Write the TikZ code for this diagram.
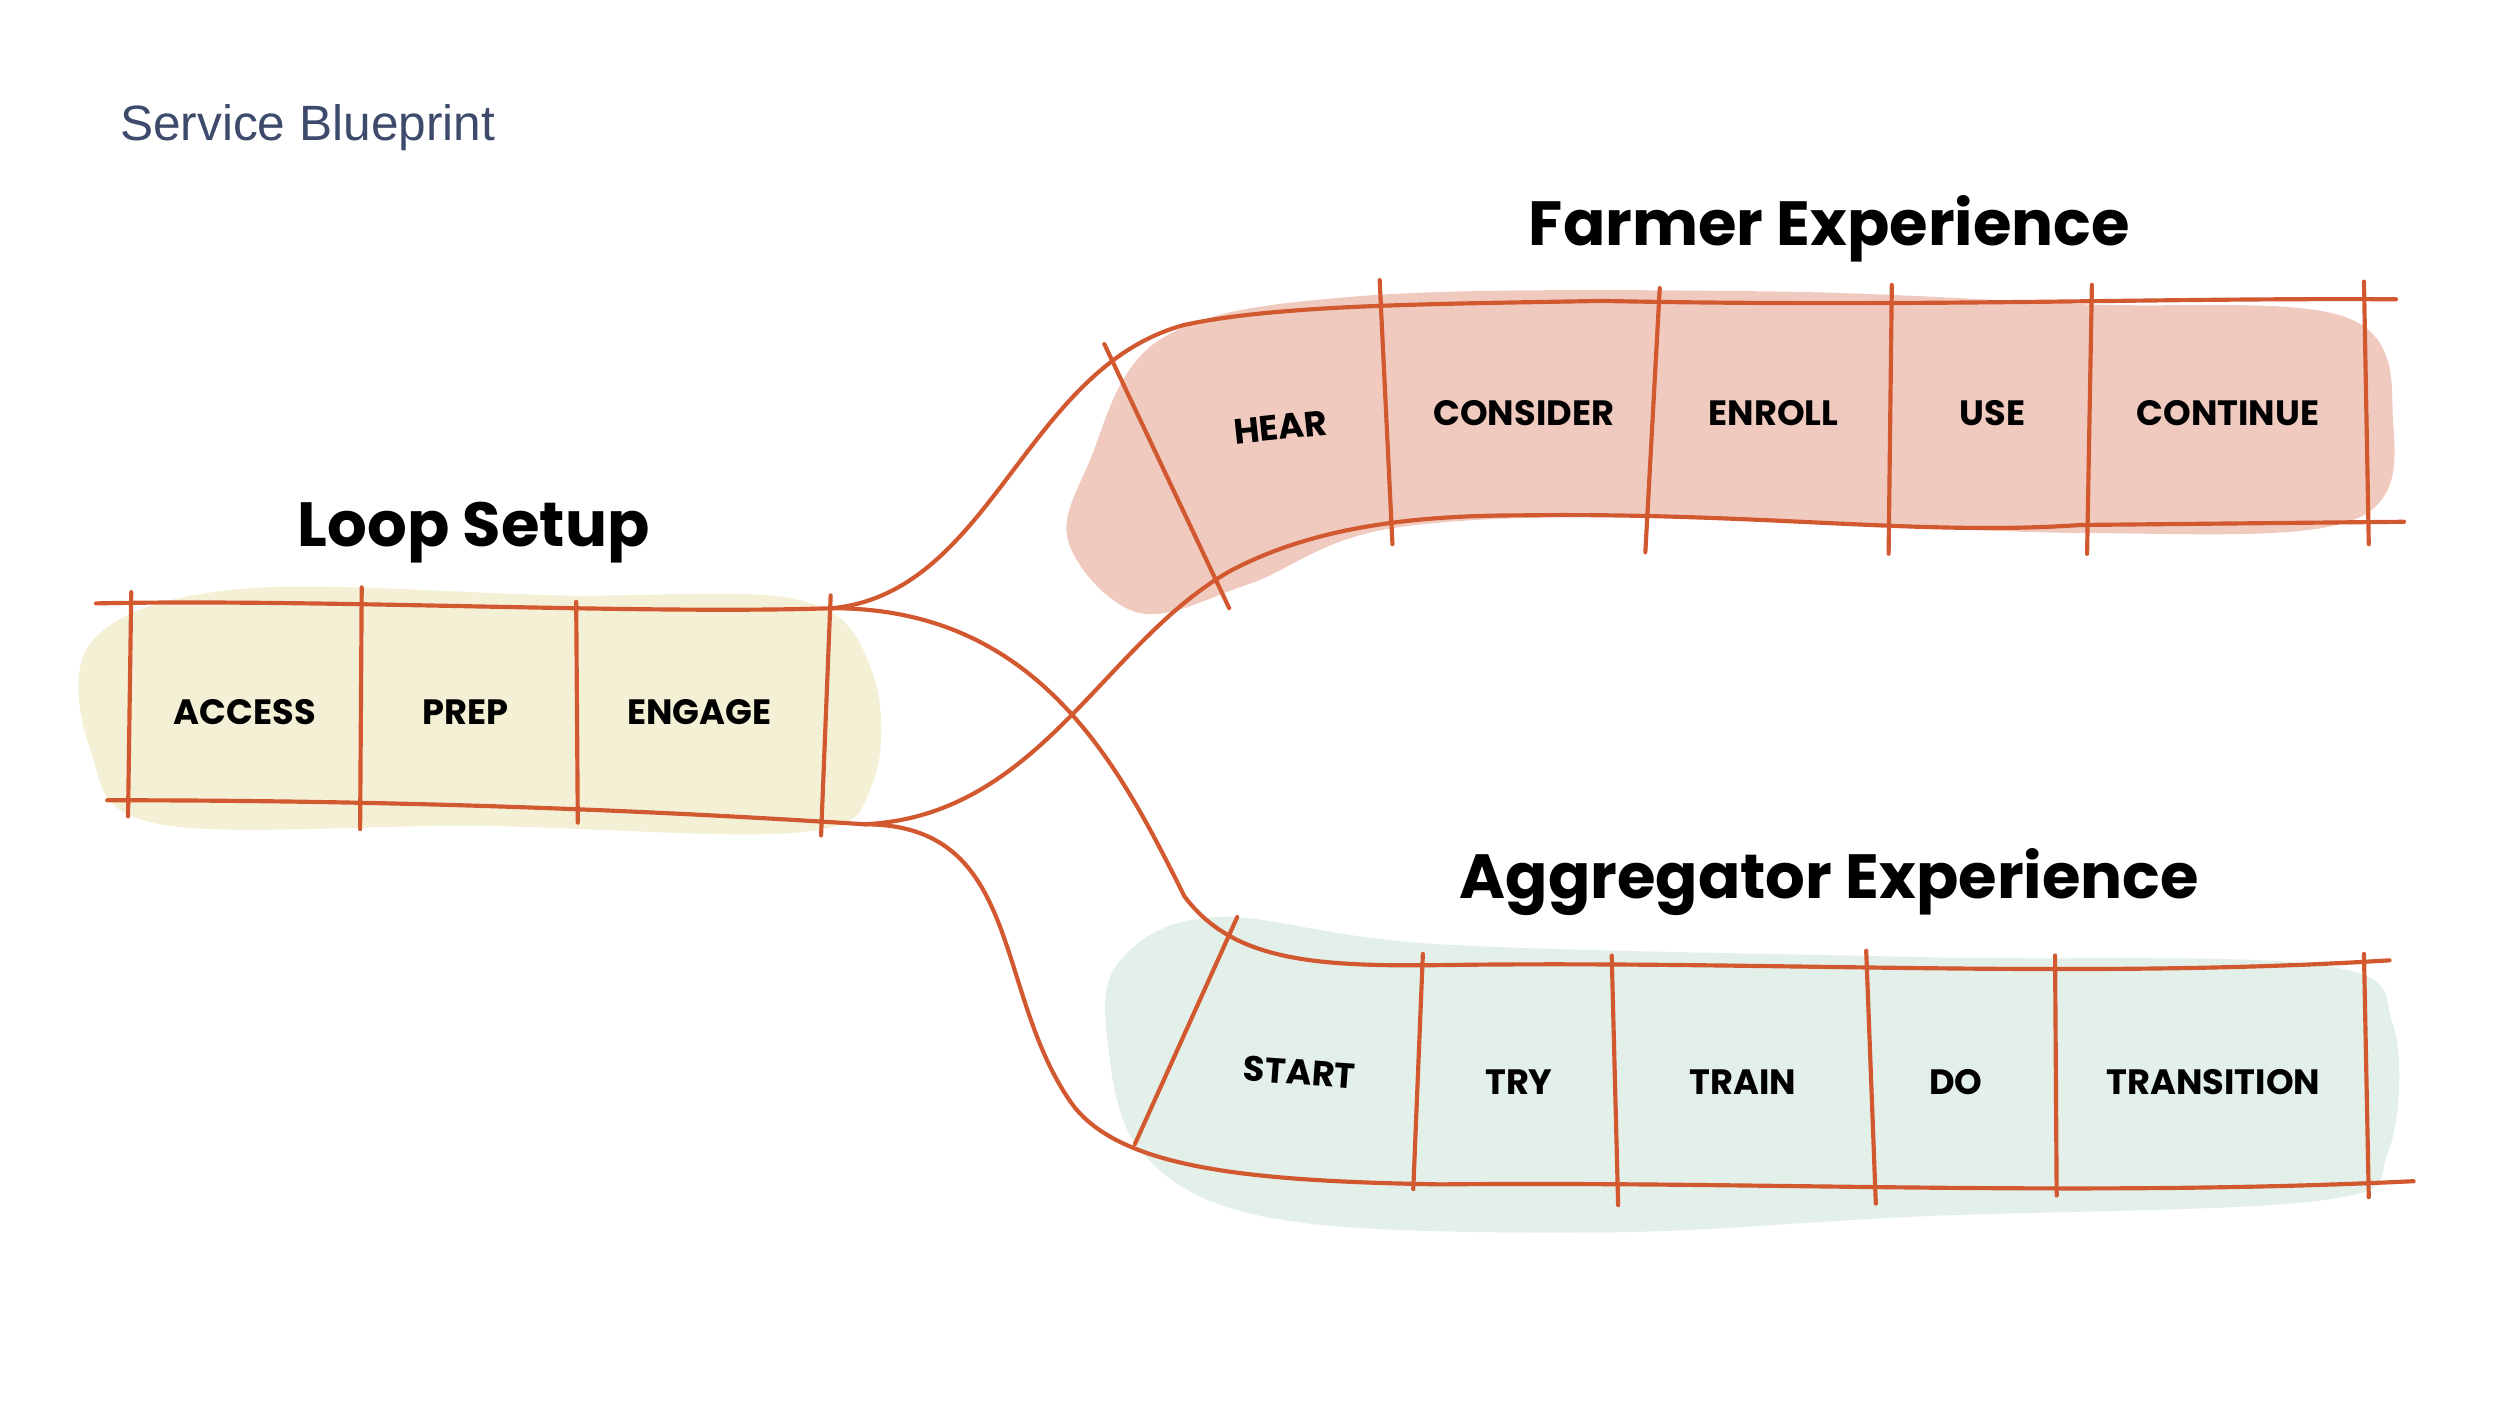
\documentclass[tikz,border=0pt]{standalone}
\usepackage{fontspec}
\setmainfont{Poppins}
\newfontfamily\arialf{Liberation Sans}
\begin{document}
\begin{tikzpicture}[x=0.5pt,y=-0.5pt,
  ln/.style={draw=lineC,line width=1.3pt,line cap=round},
  lbl/.style={font=\fontsize{11}{12}\selectfont\bfseries, text=black},
  ttl/.style={font=\fontsize{19.5}{22}\selectfont\bfseries, text=black}]
\definecolor{lineC}{HTML}{D2582F}
\definecolor{yelC}{HTML}{F4F0D6}
\definecolor{pinkC}{HTML}{F0CABF}
\definecolor{greenC}{HTML}{E3EFE9}
\definecolor{titleC}{HTML}{3D4A6B}
\useasboundingbox (0,0) rectangle (1562,878);
% blobs
\fill[yelC] plot[smooth cycle,tension=0.6] coordinates {(58,400) (150,368) (350,372) (500,375) (545,420) (545,490) (500,520) (300,516) (100,515) (57,470)};
\fill[pinkC] plot[smooth cycle,tension=0.6] coordinates {(680,290) (725,212) (850,185) (1100,182) (1300,190) (1465,198) (1495,260) (1470,325) (1300,333) (1050,323) (870,330) (780,365) (712,383) (668,340)};
\fill[greenC] plot[smooth cycle,tension=0.6] coordinates {(700,600) (760,573) (900,590) (1200,598) (1450,603) (1495,640) (1492,720) (1450,750) (1200,760) (1000,770) (800,762) (715,722) (692,650)};
% titles
\node[anchor=west,font=\arialf\fontsize{15.5}{18}\selectfont,text=titleC] (sb) at (68,80) {Service Blueprint};
\node[ttl] (tl) at (296,333) {Loop Setup};
\node[ttl] (tf) at (1143,143) {Farmer Experience};
\node[ttl] (ta) at (1143,551) {Aggregator Experience};
% loop lines
\coordinate (lt0) at (60,377); \coordinate (lt1) at (520,380);
\coordinate (lb0) at (67,500); \coordinate (lb1) at (540,515);
\draw[ln] (lt0) .. controls (200,374) and (400,384) .. (lt1);
\draw[ln] (lb0) .. controls (250,500) and (400,506) .. (lb1);
\draw[ln] (82,370) -- (80,510);
\draw[ln] (226,367) -- (225,518);
\draw[ln] (360,376) -- (361,514);
\draw[ln] (519,372) -- (513,522);
% farmer lines
\draw[ln] (lt1) .. controls (620,370) and (640,230) .. (740,203) .. controls (800,190) and (900,190) .. (1000,188) .. controls (1200,192) and (1350,186) .. (1497,187);
\draw[ln] (lb1) .. controls (650,510) and (690,400) .. (770,356) .. controls (820,330) and (880,322) .. (950,322) .. controls (1100,320) and (1200,335) .. (1300,328) -- (1502,326);
\draw[ln] (690,215) -- (768,380);
\draw[ln] (862,175) -- (870,340);
\draw[ln] (1037,180) -- (1028,345);
\draw[ln] (1182,178) -- (1180,346);
\draw[ln] (1307,178) -- (1304,346);
\draw[ln] (1477,176) -- (1480,340);
% aggregator lines
\draw[ln] (lt1) .. controls (650,380) and (700,480) .. (740,560) .. controls (770,600) and (820,604) .. (900,603) .. controls (1100,600) and (1300,612) .. (1493,600);
\draw[ln] (lb1) .. controls (640,515) and (620,620) .. (670,690) .. controls (700,730) and (780,738) .. (900,740) .. controls (1100,738) and (1300,748) .. (1508,738);
\draw[ln] (773,573) -- (709,715);
\draw[ln] (889,596) -- (883,743);
\draw[ln] (1007,597) -- (1011,753);
\draw[ln] (1166,594) -- (1172,752);
\draw[ln] (1284,597) -- (1285,747);
\draw[ln] (1477,596) -- (1480,748);
% labels
\node[lbl] (a1) at (153,445) {ACCESS};
\node[lbl] (a2) at (291,445) {PREP};
\node[lbl] (a3) at (437,445) {ENGAGE};
\node[lbl,rotate=6] (f1) at (800,267) {HEAR};
\node[lbl] (f2) at (952,258) {CONSIDER};
\node[lbl] (f3) at (1108,258) {ENROLL};
\node[lbl] (f4) at (1245,258) {USE};
\node[lbl] (f5) at (1392,258) {CONTINUE};
\node[lbl,rotate=-4] (g1) at (812,670) {START};
\node[lbl] (g2) at (949,676) {TRY};
\node[lbl] (g3) at (1089,676) {TRAIN};
\node[lbl] (g4) at (1222,676) {DO};
\node[lbl] (g5) at (1383,676) {TRANSITION};
\end{tikzpicture}
\end{document}
